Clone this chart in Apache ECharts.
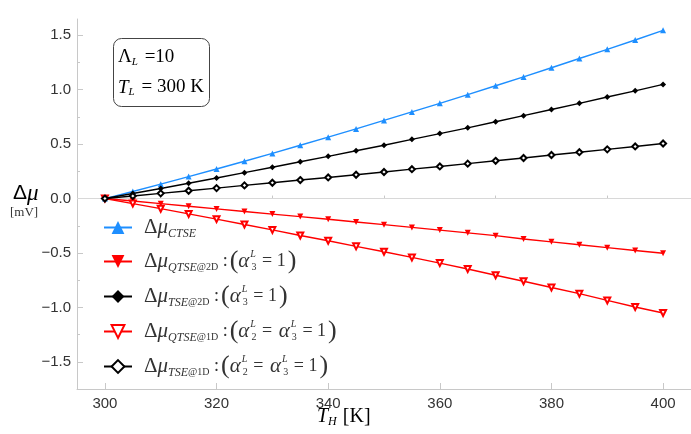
<!DOCTYPE html>
<html>
<head>
<meta charset="utf-8">
<script src="https://cdn.jsdelivr.net/npm/echarts@6/dist/echarts.min.js"></script>
<style>
  html, body { margin: 0; padding: 0; background: #fff; }
  #chart { width: 691px; height: 434px; }
</style>
</head>
<body>
<div id="chart"></div>
<script>
// temperatures T_H [K]
var temps = [300, 305, 310, 315, 320, 325, 330, 335, 340, 345, 350,
             355, 360, 365, 370, 375, 380, 385, 390, 395, 400];

// Δμ [mV]
var ctse   = [0, 0.065, 0.132, 0.202, 0.272, 0.343, 0.415, 0.490, 0.564, 0.640, 0.718,
              0.796, 0.875, 0.955, 1.037, 1.118, 1.202, 1.287, 1.371, 1.457, 1.546];
var tse2d  = [0, 0.046, 0.093, 0.141, 0.189, 0.238, 0.288, 0.338, 0.388, 0.439, 0.490,
              0.544, 0.597, 0.650, 0.706, 0.762, 0.818, 0.875, 0.933, 0.990, 1.049];
var tse1d  = [0, 0.024, 0.048, 0.072, 0.096, 0.121, 0.145, 0.170, 0.194, 0.219, 0.244,
              0.270, 0.295, 0.321, 0.347, 0.373, 0.400, 0.426, 0.452, 0.479, 0.506];
var qtse2d = [0, -0.023, -0.047, -0.071, -0.095, -0.119, -0.143, -0.166, -0.190, -0.215, -0.240,
              -0.265, -0.290, -0.315, -0.341, -0.372, -0.398, -0.424, -0.451, -0.477, -0.502];
var qtse1d = [0, -0.046, -0.093, -0.141, -0.189, -0.238, -0.288, -0.339, -0.388, -0.439, -0.489,
              -0.541, -0.593, -0.647, -0.705, -0.760, -0.817, -0.874, -0.936, -0.996, -1.052];

// ticks
var xMajor = [300, 320, 340, 360, 380, 400];
var xMinor = [310, 330, 350, 370, 390];
var yMajor = [-1.5, -1.0, -0.5, 0.0, 0.5, 1.0, 1.5];
var yMinor = [-1.25, -0.75, -0.25, 0.25, 0.75, 1.25];

var axisGray = '#c8c8c8';
var serif = 'Liberation Serif';

function pairs(ys) {
	return temps.map(function (t, i) { return [t, ys[i]]; });
}

var legendText = {
	CTSE:   '{d|Δ}{m|μ}{s|CTSE}',
	QTSE2D: '{d|Δ}{m|μ}{s|QTSE}{sr|@2D}{t| :}{p|(}{m|α}{sup|L}{sub|3}{t|\u2009= 1}{p|)}',
	TSE2D:  '{d|Δ}{m|μ}{s|TSE}{sr|@2D}{t| :}{p|(}{m|α}{sup|L}{sub|3}{t|\u2009= 1}{p|)}',
	QTSE1D: '{d|Δ}{m|μ}{s|QTSE}{sr|@1D}{t| :}{p|(}{m|α}{sup|L}{sub|2}{t|\u2009= }{m|α}{sup|L}{sub|3}{t|\u2009= 1}{p|)}',
	TSE1D:  '{d|Δ}{m|μ}{s|TSE}{sr|@1D}{t| :}{p|(}{m|α}{sup|L}{sub|2}{t|\u2009= }{m|α}{sup|L}{sub|3}{t|\u2009= 1}{p|)}'
};

var chart = echarts.init(document.getElementById('chart'));

function mkSeries(name, ys, color, symbol, rotate, empty) {
	return {
		name: name,
		type: 'line',
		data: pairs(ys),
		symbol: symbol,
		symbolSize: 6,
		symbolRotate: rotate,
		showAllSymbol: true,
		animation: false,
		lineStyle: { color: color, width: 1.4 },
		itemStyle: { color: color, borderColor: color, borderWidth: empty ? 1 : 0 },
		emphasis: { disabled: true },
		z: 3
	};
}

var series = [
	mkSeries('CTSE', ctse, '#1e8fff', 'triangle', 0, false),
	mkSeries('QTSE2D', qtse2d, '#ff0000', 'triangle', 180, false),
	mkSeries('TSE2D', tse2d, '#000000', 'diamond', 0, false),
	mkSeries('QTSE1D', qtse1d, '#ff0000', 'emptyTriangle', 180, true),
	mkSeries('TSE1D', tse1d, '#000000', 'emptyDiamond', 0, true)
];
// zero line
series[0].markLine = {
	silent: true,
	symbol: ['none', 'none'],
	label: { show: false },
	lineStyle: { color: '#d8d8d8', width: 1, type: 'solid' },
	data: [{ yAxis: 0 }],
	z: 1
};

chart.setOption({
	backgroundColor: '#fff',
	animation: false,
	grid: { left: 77, right: 0, top: 19, bottom: 45 },
	xAxis: [{
		type: 'value', min: 295, max: 405,
		axisLine: { show: true, onZero: false, lineStyle: { color: axisGray, width: 1 } },
		axisTick: { show: true, inside: true, length: 6, customValues: xMajor, lineStyle: { color: axisGray } },
		axisLabel: { customValues: xMajor, margin: 7, color: '#333', fontFamily: 'Liberation Sans', fontSize: 15 },
		splitLine: { show: false }
	}, {
		type: 'value', min: 295, max: 405, position: 'bottom',
		axisLine: { show: false },
		axisTick: { show: true, inside: true, length: 3, customValues: xMinor, lineStyle: { color: axisGray } },
		axisLabel: { show: false },
		splitLine: { show: false }
	}],
	yAxis: [{
		type: 'value', min: -1.75, max: 1.65,
		axisLine: { show: true, onZero: false, lineStyle: { color: axisGray, width: 1 } },
		axisTick: { show: true, inside: true, length: 6, customValues: yMajor, lineStyle: { color: axisGray } },
		axisLabel: {
			customValues: yMajor, margin: 6, color: '#333', fontFamily: 'Liberation Sans', fontSize: 15,
			formatter: function (v) { return v.toFixed(1).replace('-', '−'); }
		},
		splitLine: { show: false }
	}, {
		type: 'value', min: -1.75, max: 1.65, position: 'left',
		axisLine: { show: false },
		axisTick: { show: true, inside: true, length: 3, customValues: yMinor, lineStyle: { color: axisGray } },
		axisLabel: { show: false },
		splitLine: { show: false }
	}],
	legend: {
		orient: 'vertical',
		left: 103,
		top: 217,
		padding: 0,
		itemGap: 9,
		itemWidth: 28,
		itemHeight: 16,
		selectedMode: false,
		data: ['CTSE', 'QTSE2D', 'TSE2D', 'QTSE1D', 'TSE1D'],
		formatter: function (name) { return legendText[name]; },
		textStyle: {
			color: '#333',
			rich: {
				d: { fontFamily: serif, fontSize: 21, color: '#333', lineHeight: 26, padding: [0, 0, 0, 7] },
				m: { fontFamily: serif, fontStyle: 'italic', fontSize: 21, color: '#333', lineHeight: 26 },
				s: { fontFamily: serif, fontStyle: 'italic', fontSize: 12, color: '#333', padding: [12, 0, 0, 0] },
				sr: { fontFamily: serif, fontSize: 10, color: '#333', padding: [12, 0, 0, 0] },
				t: { fontFamily: serif, fontSize: 18, color: '#333', lineHeight: 26, padding: [0, 2, 0, 0] },
				p: { fontFamily: serif, fontSize: 26, color: '#333', lineHeight: 26 },
				sup: { fontFamily: serif, fontStyle: 'italic', fontSize: 10, color: '#333', width: 0.1, padding: [0, 0, 14, 1] },
				sub: { fontFamily: serif, fontSize: 10, color: '#333', padding: [12, 2, 0, 1] }
			}
		}
	},
	graphic: [
		{
			type: 'rect', left: 113, top: 38, z: 10,
			shape: { width: 96, height: 68, r: 8 },
			style: { fill: '#fff', stroke: '#444', lineWidth: 1 }
		},
		{
			type: 'text', left: 118, top: 48, z: 11,
			style: {
				text: '{u|Λ}{s|L}{u| =10}\n{i|T}{s|L}{u| = 300 K}',
				rich: {
					u: { fontFamily: serif, fontSize: 19, color: '#222', lineHeight: 30 },
					i: { fontFamily: serif, fontStyle: 'italic', fontSize: 19, color: '#222', lineHeight: 30 },
					s: { fontFamily: serif, fontStyle: 'italic', fontSize: 11, color: '#222', padding: [10, 2, 0, 0] }
				}
			}
		},
		{
			type: 'text', left: 13, top: 182, z: 11,
			style: {
				text: '{d|Δ}{m|μ}',
				rich: {
					d: { fontFamily: 'Liberation Sans', fontSize: 21, color: '#222' },
					m: { fontFamily: serif, fontStyle: 'italic', fontSize: 23, color: '#222' }
				}
			}
		},
		{
			type: 'text', left: 10, top: 206, z: 11,
			style: { text: '[mV]', fontFamily: serif, fontSize: 13, fill: '#333' }
		},
		{
			type: 'text', left: 317, top: 407, z: 11,
			style: {
				text: '{i|T}{s|H}{u|[K]}',
				rich: {
					i: { fontFamily: serif, fontStyle: 'italic', fontSize: 20, color: '#222' },
					s: { fontFamily: serif, fontStyle: 'italic', fontSize: 12, color: '#222', padding: [10, 6, 0, 0] },
					u: { fontFamily: serif, fontSize: 20, color: '#222' }
				}
			}
		}
	],
	series: series
});
</script>
</body>
</html>
